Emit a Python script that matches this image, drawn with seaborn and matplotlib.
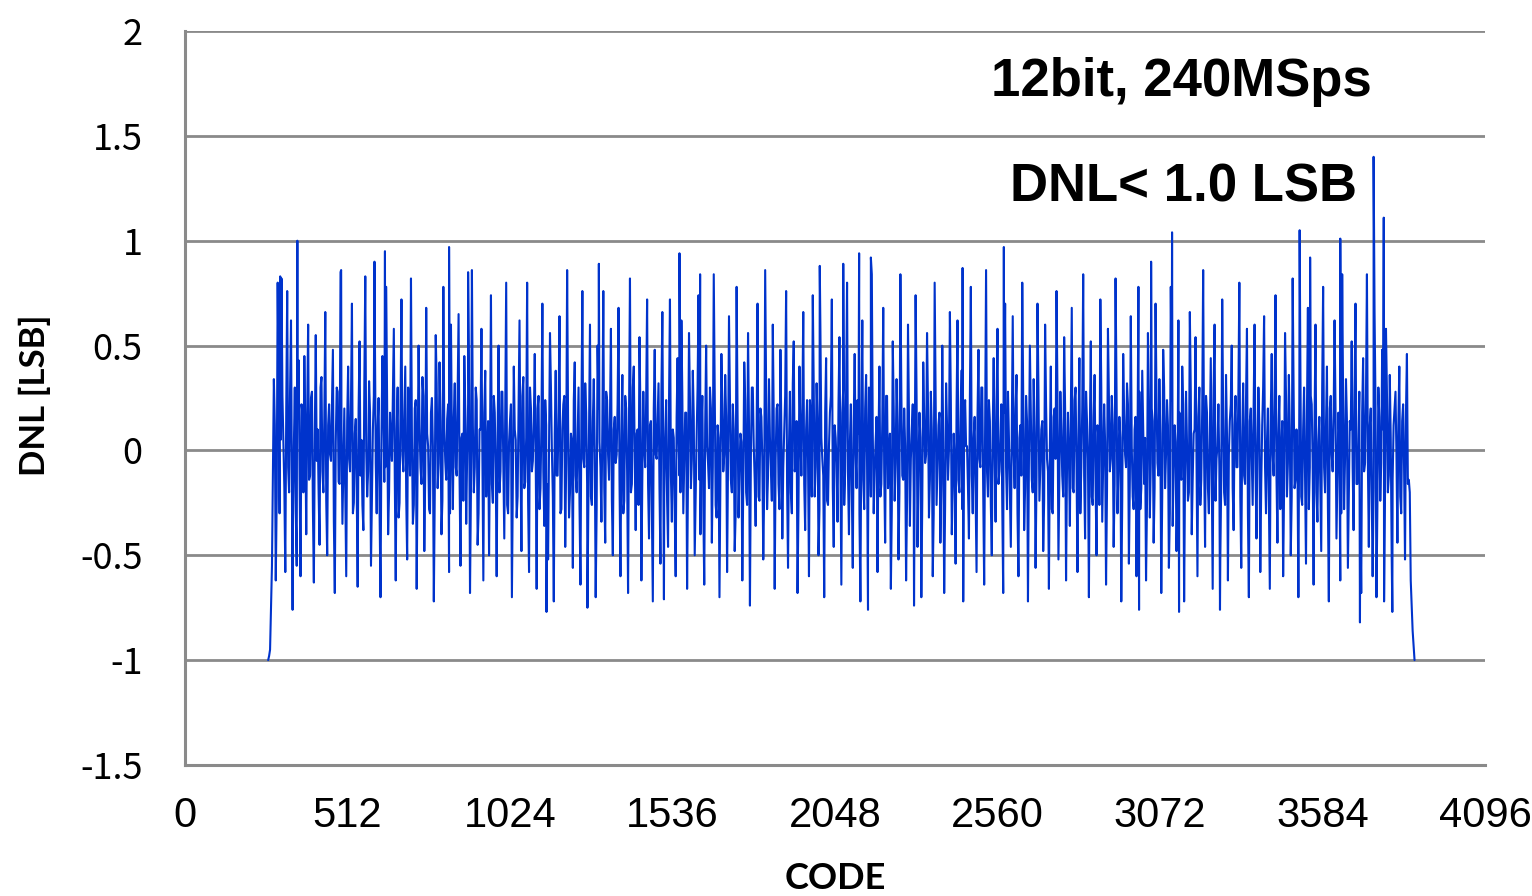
import numpy as np
import pandas as pd
import matplotlib
matplotlib.use("Agg")
import matplotlib.pyplot as plt
import seaborn as sns

# ---------------- data ----------------
code_start = 262          # first measured code
code_step = 6             # spacing of the sampled base values
fill_offset = 3           # in-between samples of the dense core

dnl_base = [
    [-1.00, -0.95, -0.55, 0.34, -0.62, 0.80, -0.30, 0.82, 0.05, -0.58, 0.76, -0.20, 0.62, -0.35, 0.30, -0.55, 0.43, -0.60, 0.18, 0.45],
    [-0.40, 0.60, -0.12, 0.28, -0.63, 0.55, 0.10, -0.45, 0.35, -0.20, 0.66, -0.50, 0.22, -0.05, 0.48, -0.68, 0.30, -0.15, 0.85, -0.35],
    [0.20, -0.60, 0.40, -0.10, 0.70, -0.25, 0.15, -0.65, 0.52, 0.05, -0.38, 0.83, -0.22, 0.33, -0.55, 0.10, 0.62, -0.30, 0.25, -0.70],
    [0.45, -0.15, 0.78, -0.40, 0.18, -0.05, 0.58, -0.62, 0.30, -0.25, 0.72, -0.10, 0.40, -0.52, 0.12, 0.82, -0.35, 0.20, -0.66, 0.50],
    [-0.08, 0.35, -0.48, 0.68, 0.02, -0.30, 0.25, -0.72, 0.55, -0.18, 0.42, -0.40, 0.78, -0.05, 0.15, -0.58, 0.60, -0.28, 0.32, -0.12],
    [0.65, -0.55, 0.08, 0.45, -0.35, 0.22, -0.68, 0.86, -0.20, 0.30, -0.45, 0.10, 0.58, -0.62, 0.38, -0.02, -0.50, 0.74, -0.25, 0.18],
    [-0.60, 0.50, -0.10, 0.28, -0.42, 0.80, -0.30, 0.14, -0.70, 0.40, 0.05, -0.22, 0.62, -0.48, 0.35, -0.15, 0.80, -0.58, 0.20, -0.05],
    [0.46, -0.66, 0.26, -0.18, 0.70, -0.36, 0.12, -0.52, 0.56, 0.00, -0.72, 0.38, -0.12, 0.64, -0.28, 0.22, -0.46, 0.86, -0.32, 0.08],
    [-0.56, 0.42, -0.20, 0.30, -0.64, 0.76, -0.08, 0.18, -0.40, 0.60, -0.26, 0.34, -0.70, 0.50, 0.04, -0.34, 0.76, -0.44, 0.24, -0.14],
    [0.58, -0.50, 0.16, -0.02, 0.68, -0.60, 0.36, -0.24, 0.20, -0.68, 0.82, -0.16, 0.40, -0.38, 0.10, 0.54, -0.62, 0.28, -0.08, 0.72],
    [-0.42, 0.14, -0.72, 0.48, -0.04, 0.32, -0.54, 0.66, -0.22, 0.24, -0.46, 0.72, -0.34, 0.06, -0.60, 0.44, -0.12, 0.62, -0.30, 0.18],
    [-0.66, 0.56, -0.18, 0.38, -0.50, 0.06, 0.74, -0.40, 0.26, -0.64, 0.50, -0.06, 0.30, -0.44, 0.84, -0.26, 0.12, -0.70, 0.46, -0.10],
    [0.36, -0.58, 0.64, -0.14, 0.22, -0.48, 0.78, -0.32, 0.08, -0.62, 0.42, -0.20, 0.56, -0.74, 0.30, 0.02, -0.36, 0.70, -0.24, 0.16],
    [-0.52, 0.86, -0.28, 0.34, -0.08, 0.60, -0.66, 0.20, -0.16, 0.48, -0.42, 0.10, 0.76, -0.56, 0.28, -0.30, 0.52, -0.06, -0.68, 0.40],
    [-0.12, 0.66, -0.38, 0.24, -0.60, 0.14, 0.74, -0.22, 0.32, -0.50, 0.58, -0.04, -0.70, 0.44, -0.26, 0.18, 0.72, -0.46, 0.06, -0.34],
    [0.54, -0.64, 0.30, -0.10, 0.80, -0.40, 0.22, -0.56, 0.46, -0.18, 0.08, -0.72, 0.62, -0.28, 0.36, -0.48, 0.16, 0.84, -0.30, 0.04],
    [-0.58, 0.40, -0.16, 0.68, -0.44, 0.26, -0.02, -0.66, 0.52, -0.24, 0.34, -0.52, 0.84, -0.12, 0.20, -0.62, 0.60, -0.36, 0.10, -0.20],
    [0.74, -0.46, 0.18, -0.70, 0.42, -0.06, 0.56, -0.32, 0.28, -0.60, 0.80, -0.26, 0.12, -0.44, 0.50, -0.68, 0.32, -0.14, 0.66, -0.40],
    [0.08, -0.54, 0.62, -0.20, 0.38, -0.72, 0.24, 0.02, -0.42, 0.78, -0.30, 0.16, -0.58, 0.48, -0.08, 0.30, -0.64, 0.86, -0.22, 0.14],
    [-0.50, 0.44, -0.34, 0.58, -0.10, 0.22, -0.68, 0.70, -0.28, 0.06, -0.46, 0.64, -0.18, 0.36, -0.60, 0.12, 0.80, -0.38, 0.26, -0.72],
    [0.50, -0.14, 0.34, -0.56, 0.70, -0.24, 0.10, -0.48, 0.60, -0.04, -0.66, 0.40, -0.30, 0.20, 0.76, -0.52, 0.28, -0.12, 0.54, -0.62],
    [0.18, -0.36, 0.68, -0.20, 0.30, -0.58, 0.44, -0.08, 0.84, -0.42, 0.14, -0.70, 0.52, -0.26, 0.36, -0.50, 0.06, 0.72, -0.34, 0.22],
    [-0.64, 0.58, -0.10, 0.26, -0.46, 0.82, -0.30, 0.16, -0.72, 0.46, -0.02, 0.32, -0.54, 0.64, -0.22, 0.10, -0.60, 0.78, -0.28, 0.38],
    [-0.16, -0.62, 0.56, -0.32, 0.20, -0.44, 0.70, -0.06, 0.34, -0.68, 0.48, -0.18, 0.24, -0.56, 0.78, -0.36, 0.12, -0.48, 0.62, -0.10],
    [0.40, -0.72, 0.28, -0.24, 0.66, -0.40, 0.08, 0.54, -0.60, 0.30, -0.14, 0.86, -0.46, 0.18, -0.30, 0.44, -0.66, 0.60, -0.04, 0.22],
    [-0.52, 0.72, -0.20, 0.36, -0.62, 0.14, 0.50, -0.38, 0.26, -0.08, 0.80, -0.56, 0.32, -0.16, 0.58, -0.70, 0.20, -0.26, 0.60, -0.42],
    [0.30, -0.58, 0.12, 0.64, -0.30, 0.20, -0.66, 0.46, -0.12, 0.74, -0.44, 0.26, -0.04, -0.60, 0.56, -0.22, 0.36, -0.50, 0.82, -0.18],
    [0.10, -0.70, 0.48, -0.26, 0.30, -0.54, 0.68, -0.08, 0.22, -0.64, 0.60, -0.34, 0.16, -0.48, 0.78, -0.20, 0.40, -0.72, 0.26, -0.10],
    [0.62, -0.42, 0.18, -0.62, 0.84, -0.28, 0.34, -0.56, 0.14, 0.52, -0.38, 0.70, -0.16, 0.28, -0.68, 0.44, -0.06, 0.84, -0.46, 0.20],
    [-0.60, 0.66, -0.70, 0.30, -0.24, 0.48, -0.72, 0.58, -0.20, 0.36, -0.50, 0.12, 0.28, -0.44, 0.40, -0.30, 0.22, -0.52, 0.46, -0.14],
    [-0.62, -0.86, -1.00],
]

# in-between values of the dense core (codes code_start + fill_offset + 6*i)
dnl_fill = [
    [-0.98, -0.75, -0.10, 0.12, -0.22, 0.30, 0.05, 0.26, -0.18, 0.20, -0.08, 0.28, -0.25, 0.02, -0.30, 0.15, -0.12, 0.22, -0.20, 0.10],
    [0.18, -0.14, 0.25, -0.28, 0.08, -0.05, -0.20, 0.30, -0.10, 0.16, -0.24, 0.12, -0.02, 0.22, -0.34, 0.04, 0.28, -0.16, 0.10, -0.06],
    [-0.22, 0.14, -0.04, 0.24, -0.30, 0.08, -0.18, 0.20, -0.12, -0.26, 0.32, 0.00, -0.10, 0.18, -0.24, 0.26, -0.06, 0.12, -0.28, 0.06],
    [0.22, -0.08, 0.16, -0.20, 0.04, 0.28, -0.14, 0.10, -0.32, 0.20, -0.02, 0.14, -0.22, 0.30, -0.12, 0.06, -0.26, 0.24, -0.04, 0.12],
    [-0.16, 0.26, -0.10, 0.08, -0.28, 0.18, 0.02, -0.20, 0.32, -0.06, 0.14, -0.24, 0.10, -0.14, 0.22, -0.30, 0.04, 0.16, -0.08, 0.28],
    [-0.12, 0.06, -0.24, 0.20, -0.02, 0.30, -0.18, 0.12, -0.08, 0.24, -0.30, 0.10, -0.04, 0.18, -0.22, 0.14, 0.02, -0.16, 0.26, -0.10],
    [0.08, -0.20, 0.28, -0.06, 0.16, -0.26, 0.04, 0.22, -0.14, 0.10, -0.32, 0.18, -0.02, 0.26, -0.18, 0.06, -0.24, 0.30, -0.10, 0.14],
    [-0.04, 0.20, -0.28, 0.12, -0.10, 0.24, -0.16, 0.02, 0.30, -0.22, 0.08, -0.12, 0.18, -0.30, 0.10, 0.26, -0.06, 0.14, -0.20, 0.04],
    [0.24, -0.12, 0.06, -0.26, 0.18, -0.04, 0.32, -0.16, 0.10, -0.22, 0.14, 0.00, -0.28, 0.20, -0.08, 0.12, -0.18, 0.28, -0.02, 0.16],
    [-0.24, 0.10, -0.06, 0.22, -0.14, 0.04, -0.30, 0.26, -0.10, 0.16, -0.20, 0.30, -0.04, 0.08, -0.26, 0.18, -0.12, 0.02, 0.24, -0.16],
    [0.12, -0.28, 0.20, -0.02, 0.14, -0.18, 0.28, -0.08, 0.06, -0.24, 0.22, -0.12, 0.10, -0.30, 0.16, 0.04, -0.20, 0.26, -0.06, 0.18],
    [-0.10, 0.24, -0.04, 0.16, -0.22, 0.30, -0.14, 0.08, -0.26, 0.12, 0.02, -0.18, 0.20, -0.08, 0.28, -0.32, 0.06, -0.12, 0.22, -0.02],
    [0.16, -0.06, 0.26, -0.20, 0.10, -0.30, 0.18, -0.10, 0.04, -0.16, 0.24, -0.26, 0.12, -0.02, 0.30, -0.14, 0.08, -0.22, 0.20, -0.04],
    [-0.18, 0.28, -0.12, 0.06, -0.24, 0.16, -0.04, 0.22, -0.28, 0.10, -0.08, 0.26, -0.16, 0.02, -0.20, 0.32, -0.10, 0.14, -0.26, 0.08],
    [0.20, -0.16, 0.10, -0.04, 0.24, -0.22, 0.30, -0.08, 0.14, -0.28, 0.06, -0.12, 0.18, -0.24, 0.02, 0.26, -0.18, 0.12, -0.06, 0.22],
    [-0.08, 0.18, -0.26, 0.28, -0.12, 0.04, -0.20, 0.14, -0.02, 0.24, -0.30, 0.10, -0.14, 0.20, -0.06, 0.30, -0.22, 0.08, -0.10, 0.16],
    [0.04, -0.22, 0.14, -0.10, 0.26, -0.18, 0.08, -0.28, 0.20, -0.06, 0.12, -0.20, 0.28, -0.14, 0.02, -0.24, 0.18, -0.04, 0.22, -0.12],
    [0.26, -0.10, 0.06, -0.24, 0.16, -0.02, 0.22, -0.14, 0.10, -0.30, 0.28, -0.08, 0.18, -0.16, 0.04, -0.26, 0.12, 0.00, 0.24, -0.18],
    [-0.06, 0.20, -0.14, 0.10, -0.28, 0.14, 0.02, -0.18, 0.26, -0.12, 0.06, -0.22, 0.16, -0.04, 0.30, -0.20, 0.08, -0.10, 0.24, -0.26],
    [0.10, -0.04, 0.22, -0.16, 0.04, -0.26, 0.18, -0.08, 0.28, -0.20, 0.12, -0.02, 0.20, -0.30, 0.06, -0.12, 0.26, -0.18, 0.14, -0.06],
    [0.18, -0.20, 0.08, -0.12, 0.30, -0.06, 0.14, -0.24, 0.22, -0.10, 0.02, -0.28, 0.16, -0.04, 0.26, -0.14, 0.10, -0.22, 0.20, -0.08],
    [-0.02, 0.14, -0.18, 0.24, -0.08, 0.06, -0.30, 0.20, -0.12, 0.28, -0.04, 0.10, -0.22, 0.16, -0.16, 0.12, -0.26, 0.30, -0.06, 0.04],
    [-0.20, 0.26, -0.04, 0.12, -0.16, 0.30, -0.10, 0.06, -0.24, 0.18, -0.08, 0.22, -0.14, 0.02, -0.28, 0.16, -0.02, 0.28, -0.18, 0.10],
    [0.06, -0.26, 0.20, -0.06, 0.14, -0.18, 0.26, -0.12, 0.08, -0.22, 0.30, -0.02, 0.12, -0.30, 0.24, -0.08, 0.04, -0.20, 0.18, -0.14],
    [0.22, -0.10, 0.04, -0.20, 0.28, -0.14, 0.10, -0.06, 0.16, -0.26, 0.20, -0.04, 0.26, -0.18, 0.08, -0.12, 0.30, -0.24, 0.02, -0.08],
    [-0.14, 0.18, -0.26, 0.08, -0.02, 0.22, -0.18, 0.12, -0.08, 0.28, -0.22, 0.06, -0.12, 0.24, -0.30, 0.14, -0.04, 0.20, -0.10, 0.02],
    [0.12, -0.16, 0.30, -0.08, 0.04, -0.24, 0.18, -0.02, 0.22, -0.12, 0.08, -0.28, 0.14, -0.18, 0.26, -0.06, 0.10, -0.22, 0.28, -0.14],
    [-0.04, 0.24, -0.22, 0.10, -0.12, 0.18, -0.28, 0.26, -0.06, 0.14, -0.20, 0.04, -0.16, 0.30, -0.08, 0.12, -0.26, 0.20, -0.02, 0.16],
    [0.20, -0.12, 0.06, -0.30, 0.24, -0.04, 0.14, -0.20, 0.10, -0.08, 0.28, -0.16, 0.02, -0.24, 0.18, -0.10, 0.26, -0.06, 0.12, -0.22],
    [-0.18, 0.22, -0.26, 0.16, -0.06, 0.10, -0.20, 0.28, -0.12, 0.06, -0.14, 0.20, -0.02, 0.12, -0.22, 0.14, -0.08, 0.18, -0.16, -0.20],
]

# extreme spikes
peak_codes = [300, 354, 492, 597, 630, 832, 892, 1304, 1558, 1623, 2000, 2074, 2124, 2161,
              2450, 2580, 3044, 3110, 3512, 3545, 3640, 3745, 3777,
              339, 1139, 1268, 1509, 2152, 2297, 3006, 3132, 3261, 3702, 3804]
peak_values = [0.83, 1.00, 0.86, 0.90, 0.95, 0.97, 0.85, 0.89, 0.94, 0.84, 0.88, 0.89, 0.94, 0.92,
               0.87, 0.97, 0.90, 1.04, 1.05, 0.92, 1.01, 1.40, 1.11,
               -0.76, -0.77, -0.75, -0.71, -0.76, -0.74, -0.76, -0.77, -0.76, -0.82, -0.77]

x_ticks = [0, 512, 1024, 1536, 2048, 2560, 3072, 3584, 4096]
y_ticks = [-1.5, -1, -0.5, 0, 0.5, 1, 1.5, 2]
y_tick_labels = ["-1.5", "-1", "-0.5", "0", "0.5", "1", "1.5", "2"]

# ---------------- build table ----------------
base_vals = [v for row in dnl_base for v in row]
base_codes = [code_start + code_step * i for i in range(len(base_vals))]
fill_vals = [v for row in dnl_fill for v in row]
fill_codes = [code_start + fill_offset + code_step * i for i in range(len(fill_vals))]
df = pd.DataFrame({"code": base_codes + fill_codes + peak_codes,
                   "dnl": base_vals + fill_vals + peak_values})
df = df.sort_values("code").reset_index(drop=True)

# ---------------- plot ----------------
sns.set_style("white")
plt.rcParams["font.family"] = ["Liberation Sans", "DejaVu Sans"]
plt.rcParams["text.color"] = "black"
plt.rcParams["axes.labelcolor"] = "black"
plt.rcParams["xtick.labelcolor"] = "black"
plt.rcParams["ytick.labelcolor"] = "black"

W, H = 1532, 896
fig = plt.figure(figsize=(W / 100, H / 100), dpi=100)
L, R, T, B = 185, 1485, 31, 765
ax = fig.add_axes([L / W, 1 - B / H, (R - L) / W, (B - T) / H])

grey = "#8a8a8a"
for yv in y_ticks[1:]:
    ax.axhline(yv, color=grey, lw=2.0, zorder=1)

sns.lineplot(data=df, x="code", y="dnl", ax=ax, color="#0033cc", lw=1.5,
             estimator=None, sort=True, zorder=3)

ax.set_xlim(0, 4096)
ax.set_ylim(-1.5, 2)
ax.set_xticks(x_ticks)
ax.set_xticklabels([str(t) for t in x_ticks],
                   fontfamily=["Liberation Sans Narrow", "Liberation Sans", "DejaVu Sans"],
                   fontsize=30, color="black")
ax.set_yticks(y_ticks)
ax.set_yticklabels(y_tick_labels, fontfamily=["Noto Sans CJK JP", "DejaVu Sans"],
                   fontsize=26, color="black")

for s in ["top", "right"]:
    ax.spines[s].set_visible(False)
for s in ["left", "bottom"]:
    ax.spines[s].set_color(grey)
    ax.spines[s].set_linewidth(2.2)

ax.tick_params(axis="y", direction="out", length=9.5, width=1.6, color=grey, pad=21)
ax.tick_params(axis="x", direction="out", length=8.5, width=1.6, color=grey, pad=14)

ax.set_xlabel("CODE", fontfamily=["Lato", "DejaVu Sans"], fontweight="bold",
              fontsize=26, color="black")
ax.set_ylabel("DNL [LSB]", fontfamily=["Lato", "DejaVu Sans"], fontweight="bold",
              fontsize=25, color="black")
ax.xaxis.set_label_coords(0.5, -0.132)
ax.yaxis.set_label_coords(-0.103, 0.504)

ax.text(0.913, 1.757, "12bit, 240MSps", transform=ax.get_yaxis_transform(),
        ha="right", va="center", fontsize=38, fontweight="bold",
        fontfamily=["Liberation Sans", "DejaVu Sans"], zorder=5, color="black")
ax.text(0.9015, 1.256, "DNL< 1.0 LSB", transform=ax.get_yaxis_transform(),
        ha="right", va="center", fontsize=38, fontweight="bold",
        fontfamily=["Liberation Sans", "DejaVu Sans"], zorder=5, color="black")

fig.savefig("out.png", dpi=100, facecolor="white")
